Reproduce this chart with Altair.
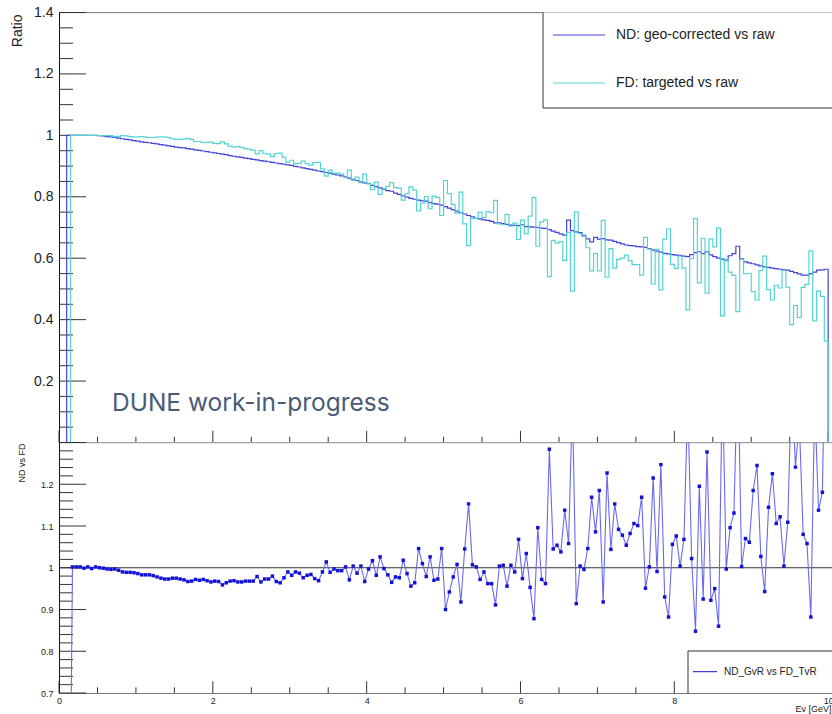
import altair as alt
import pandas as pd

FONT = "Liberation Sans"
BIN_W = 0.05
X_MAX = 10.0
X_DOMAIN_MAX = 10.05

ND_LABEL = "ND: geo-corrected vs raw"
FD_LABEL = "FD: targeted vs raw"
RATIO_LABEL = "ND_GvR vs FD_TvR"
WATERMARK = "DUNE work-in-progress"

ND_COLOR = "#4343da"
FD_COLOR = "#55d3d3"
RATIO_LINE = "#6a6aee"
RATIO_MARK = "#1212d6"

# ND: geo-corrected / raw, per 0.05 GeV bin
nd = [0.000, 0.000, 1.000, 1.000, 1.000, 1.000, 1.000, 1.000, 1.000, 1.000,
      0.999, 0.998, 0.996, 0.995, 0.993, 0.991, 0.989, 0.987, 0.985, 0.983,
      0.981, 0.979, 0.977, 0.976, 0.974, 0.972, 0.970, 0.968, 0.966, 0.964,
      0.962, 0.960, 0.959, 0.957, 0.955, 0.953, 0.951, 0.949, 0.947, 0.945,
      0.943, 0.941, 0.939, 0.937, 0.934, 0.932, 0.930, 0.928, 0.926, 0.924,
      0.922, 0.920, 0.918, 0.916, 0.914, 0.912, 0.910, 0.908, 0.906, 0.904,
      0.902, 0.899, 0.897, 0.894, 0.892, 0.889, 0.887, 0.884, 0.882, 0.879,
      0.877, 0.874, 0.871, 0.868, 0.865, 0.861, 0.857, 0.853, 0.849, 0.845,
      0.843, 0.837, 0.833, 0.829, 0.824, 0.820, 0.818, 0.812, 0.808, 0.803,
      0.799, 0.795, 0.792, 0.789, 0.787, 0.786, 0.781, 0.778, 0.776, 0.773,
      0.768, 0.763, 0.758, 0.753, 0.748, 0.744, 0.739, 0.735, 0.730, 0.728,
      0.725, 0.723, 0.720, 0.715, 0.715, 0.713, 0.710, 0.708, 0.707, 0.706,
      0.709, 0.703, 0.702, 0.701, 0.700, 0.698, 0.697, 0.693, 0.688, 0.684,
      0.679, 0.675, 0.724, 0.690, 0.686, 0.683, 0.673, 0.663, 0.653, 0.668,
      0.662, 0.664, 0.660, 0.659, 0.655, 0.651, 0.647, 0.643, 0.641, 0.640,
      0.638, 0.637, 0.635, 0.631, 0.627, 0.623, 0.620, 0.616, 0.614, 0.612,
      0.610, 0.609, 0.607, 0.605, 0.612, 0.618, 0.621, 0.615, 0.621, 0.611,
      0.605, 0.600, 0.597, 0.594, 0.608, 0.615, 0.639, 0.598, 0.588, 0.585,
      0.582, 0.578, 0.575, 0.572, 0.570, 0.568, 0.566, 0.564, 0.562, 0.561,
      0.557, 0.553, 0.549, 0.545, 0.545, 0.550, 0.555, 0.561, 0.562, 0.564]

# FD: targeted / raw, per 0.05 GeV bin
fd = [0.000, 0.000, 0.000, 1.000, 1.000, 1.000, 1.000, 1.000, 1.000, 1.000,
      0.999, 0.999, 0.999, 0.999, 0.996, 0.997, 0.999, 0.998, 0.996, 0.995,
      0.995, 0.996, 0.994, 0.993, 0.993, 0.994, 0.995, 0.995, 0.993, 0.989,
      0.987, 0.987, 0.988, 0.990, 0.987, 0.980, 0.980, 0.976, 0.977, 0.978,
      0.974, 0.973, 0.979, 0.972, 0.965, 0.962, 0.963, 0.961, 0.957, 0.955,
      0.952, 0.940, 0.950, 0.941, 0.939, 0.931, 0.941, 0.942, 0.928, 0.913,
      0.919, 0.908, 0.909, 0.916, 0.908, 0.903, 0.911, 0.912, 0.891, 0.867,
      0.887, 0.877, 0.877, 0.874, 0.863, 0.887, 0.854, 0.864, 0.846, 0.874,
      0.844, 0.823, 0.848, 0.808, 0.826, 0.834, 0.846, 0.830, 0.828, 0.789,
      0.810, 0.832, 0.822, 0.754, 0.779, 0.801, 0.761, 0.802, 0.798, 0.739,
      0.853, 0.810, 0.775, 0.747, 0.815, 0.712, 0.641, 0.730, 0.729, 0.749,
      0.732, 0.752, 0.748, 0.788, 0.712, 0.709, 0.743, 0.704, 0.714, 0.661,
      0.724, 0.680, 0.737, 0.798, 0.639, 0.718, 0.725, 0.540, 0.658, 0.649,
      0.654, 0.593, 0.684, 0.493, 0.751, 0.680, 0.676, 0.634, 0.559, 0.615,
      0.559, 0.723, 0.538, 0.631, 0.568, 0.596, 0.600, 0.610, 0.592, 0.579,
      0.579, 0.545, 0.668, 0.630, 0.516, 0.629, 0.497, 0.662, 0.696, 0.580,
      0.567, 0.607, 0.568, 0.432, 0.599, 0.729, 0.520, 0.665, 0.486, 0.663,
      0.637, 0.698, 0.412, 0.596, 0.555, 0.544, 0.426, 0.596, 0.550, 0.551,
      0.491, 0.464, 0.560, 0.607, 0.498, 0.464, 0.512, 0.503, 0.560, 0.506,
      0.384, 0.446, 0.407, 0.505, 0.515, 0.624, 0.396, 0.493, 0.476, 0.330]

# ND vs FD, per bin (values outside 0.7-1.3 leave the frame)
ratio = [0.000, 0.000, 0.000, 1.002, 1.002, 1.002, 0.999, 1.002, 0.998, 1.002,
         1.000, 0.999, 0.997, 0.996, 0.997, 0.994, 0.990, 0.989, 0.989, 0.988,
         0.986, 0.983, 0.983, 0.983, 0.981, 0.978, 0.975, 0.973, 0.973, 0.975,
         0.975, 0.973, 0.971, 0.967, 0.968, 0.972, 0.970, 0.972, 0.969, 0.966,
         0.968, 0.967, 0.959, 0.964, 0.968, 0.969, 0.966, 0.966, 0.968, 0.968,
         0.968, 0.979, 0.966, 0.973, 0.973, 0.980, 0.967, 0.964, 0.976, 0.990,
         0.982, 0.990, 0.987, 0.976, 0.982, 0.984, 0.974, 0.969, 0.990, 1.014,
         0.989, 0.997, 0.993, 0.993, 1.002, 0.971, 1.004, 0.987, 1.004, 0.967,
         0.997, 1.017, 0.982, 1.026, 0.998, 0.983, 0.965, 0.978, 0.976, 1.018,
         0.986, 0.956, 0.964, 1.046, 1.010, 0.979, 1.026, 0.970, 0.973, 1.046,
         0.900, 0.942, 0.978, 1.008, 0.918, 1.045, 1.153, 1.007, 1.002, 0.972,
         0.990, 0.962, 0.962, 0.911, 1.004, 1.006, 0.956, 1.006, 0.990, 1.068,
         0.974, 1.034, 0.953, 0.878, 1.096, 0.972, 0.962, 1.284, 1.045, 1.054,
         1.038, 1.138, 1.058, 1.400, 0.914, 1.004, 0.996, 1.046, 1.169, 1.086,
         1.185, 0.918, 1.227, 1.044, 1.153, 1.092, 1.078, 1.054, 1.082, 1.106,
         1.101, 1.169, 0.951, 1.002, 1.215, 0.991, 1.247, 0.930, 0.882, 1.056,
         1.076, 1.004, 1.068, 1.400, 1.022, 0.848, 1.195, 0.925, 1.277, 0.922,
         0.950, 0.860, 1.450, 0.997, 1.096, 1.131, 1.500, 1.003, 1.070, 1.061,
         1.185, 1.245, 1.027, 0.943, 1.145, 1.225, 1.106, 1.122, 1.004, 1.109,
         1.450, 1.241, 1.350, 1.080, 1.058, 0.882, 1.400, 1.138, 1.181, 1.700]

# tick values
top_y_labels = [0.2, 0.4, 0.6, 0.8, 1.0, 1.2, 1.4]
top_y_major = [0.0, 0.2, 0.4, 0.6, 0.8, 1.0, 1.2, 1.4]
top_y_minor = [0.05, 0.1, 0.15, 0.25, 0.3, 0.35, 0.45, 0.5, 0.55, 0.65, 0.7,
               0.75, 0.85, 0.9, 0.95, 1.05, 1.1, 1.15, 1.25, 1.3, 1.35]
bot_y_labels = [0.7, 0.8, 0.9, 1.0, 1.1, 1.2]
bot_y_major = [0.7, 0.8, 0.9, 1.0, 1.1, 1.2, 1.3]
bot_y_minor = [0.72, 0.74, 0.76, 0.78, 0.82, 0.84, 0.86, 0.88, 0.92, 0.94,
               0.96, 0.98, 1.02, 1.04, 1.06, 1.08, 1.12, 1.14, 1.16, 1.18,
               1.22, 1.24, 1.26, 1.28]
x_major = [0, 2, 4, 6, 8, 10]
x_minor = [0.5, 1, 1.5, 2.5, 3, 3.5, 4.5, 5, 5.5, 6.5, 7, 7.5, 8.5, 9, 9.5]

# ---------------------------------------------------------------- tables
edges = [round(i * BIN_W, 3) for i in range(len(nd))] + [X_MAX]
centers = [round((i + 0.5) * BIN_W, 3) for i in range(len(ratio))]
nd_df = pd.DataFrame({"x": edges, "y": nd + [0.0]})
fd_df = pd.DataFrame({"x": edges, "y": fd + [0.0]})
ratio_df = pd.DataFrame({"x": centers, "y": ratio})

W, H_TOP, H_BOT = 773, 430, 250.5
TICK = "#333333"

xs = alt.Scale(domain=[0, X_DOMAIN_MAX], nice=False, zero=False)
ys_top = alt.Scale(domain=[0, 1.4], nice=False, zero=False)
ys_bot = alt.Scale(domain=[0.7, 1.3], nice=False, zero=False)

top_y_axis = alt.Axis(values=top_y_labels, format="~g", ticks=False, tickSize=0,
                      domain=True, domainColor="#111111", grid=False,
                      labelFont=FONT, labelFontSize=14, labelColor="#222222",
                      labelPadding=6, labelFlush=False, labelOverlap=False,
                      title="Ratio", titleFont=FONT, titleFontSize=14,
                      titleFontWeight="normal", titleColor="#222222",
                      titleAngle=270, titleAlign="right", titleBaseline="middle",
                      titleX=-42, titleY=1.5)
bot_y_axis = alt.Axis(values=bot_y_labels, format="~g", ticks=False, tickSize=0,
                      domain=True, domainColor="#111111", grid=False,
                      labelFont=FONT, labelFontSize=9, labelColor="#222222",
                      labelPadding=6, labelFlush=False, labelOverlap=False,
                      title="ND vs FD", titleFont=FONT, titleFontSize=9,
                      titleFontWeight="normal", titleColor="#222222",
                      titleAngle=270, titleAlign="right", titleBaseline="middle",
                      titleX=-38, titleY=0.5)
bot_x_axis = alt.Axis(values=x_major, format="d", ticks=False, tickSize=0,
                      domain=True, domainColor="#777777", grid=False,
                      labelFont=FONT, labelFontSize=9, labelColor="#222222",
                      labelPadding=3, labelFlush=False, labelOverlap=False,
                      title="Ev [GeV]", titleFont=FONT, titleFontSize=9,
                      titleFontWeight="normal", titleColor="#222222",
                      titleAlign="left", titleBaseline="middle",
                      titleX=736, titleY=15)

one = pd.DataFrame({"a": [0]})

# ---------------------------------------------------------------- top panel
nd_line = alt.Chart(nd_df).mark_line(interpolate="step-after", color=ND_COLOR,
                                      strokeWidth=1.2).encode(
    x=alt.X("x:Q", scale=xs, axis=None),
    y=alt.Y("y:Q", scale=ys_top, axis=top_y_axis))
fd_line = alt.Chart(fd_df).mark_line(interpolate="step-after", color=FD_COLOR,
                                      strokeWidth=1.2).encode(
    x=alt.X("x:Q", scale=xs, axis=None),
    y=alt.Y("y:Q", scale=ys_top, axis=top_y_axis))

top_ymaj = alt.Chart(pd.DataFrame({"y": top_y_major})).mark_rule(color=TICK).encode(
    y=alt.Y("y:Q", scale=ys_top, axis=top_y_axis), x=alt.value(0), x2=alt.value(27))
top_ymin = alt.Chart(pd.DataFrame({"y": top_y_minor})).mark_rule(color=TICK).encode(
    y=alt.Y("y:Q", scale=ys_top, axis=top_y_axis), x=alt.value(0), x2=alt.value(14))
top_xmaj = alt.Chart(pd.DataFrame({"x": x_major})).mark_rule(color=TICK).encode(
    x=alt.X("x:Q", scale=xs, axis=None), y=alt.value(H_TOP), y2=alt.value(H_TOP - 11.7))
top_xmin = alt.Chart(pd.DataFrame({"x": x_minor})).mark_rule(color=TICK).encode(
    x=alt.X("x:Q", scale=xs, axis=None), y=alt.value(H_TOP), y2=alt.value(H_TOP - 5.7))

top_border = alt.Chart(one).mark_rule(color="#888888").encode(
    x=alt.value(0), x2=alt.value(W), y=alt.value(0))
mid_border = alt.Chart(one).mark_rule(color="#666666").encode(
    x=alt.value(0), x2=alt.value(W), y=alt.value(H_TOP))

leg_bg = alt.Chart(one).mark_rect(color="white").encode(
    x=alt.value(484), x2=alt.value(W), y=alt.value(0), y2=alt.value(95.5))
leg_left = alt.Chart(one).mark_rule(color="#333333").encode(
    x=alt.value(484), y=alt.value(0), y2=alt.value(95.5))
leg_bottom = alt.Chart(one).mark_rule(color="#333333").encode(
    x=alt.value(484), x2=alt.value(W), y=alt.value(95.5))
leg_nd_line = alt.Chart(one).mark_rule(color=ND_COLOR, strokeWidth=1.2).encode(
    x=alt.value(494), x2=alt.value(546), y=alt.value(22.5))
leg_fd_line = alt.Chart(one).mark_rule(color=FD_COLOR, strokeWidth=1.2).encode(
    x=alt.value(494), x2=alt.value(546), y=alt.value(70.5))
leg_nd_text = alt.Chart(one).mark_text(text=ND_LABEL, font=FONT, fontSize=14,
                                       align="left", baseline="middle",
                                       color="#222222").encode(
    x=alt.value(557), y=alt.value(22.5))
leg_fd_text = alt.Chart(one).mark_text(text=FD_LABEL, font=FONT, fontSize=14,
                                       align="left", baseline="middle",
                                       color="#222222").encode(
    x=alt.value(557), y=alt.value(70.5))

watermark = alt.Chart(one).mark_text(text=WATERMARK, font="Inter", fontSize=24.5,
                                     align="left", baseline="alphabetic",
                                     color="#485b79").encode(
    x=alt.value(53), y=alt.value(398.5))

top = alt.layer(top_border, leg_bg, leg_left, leg_bottom, leg_nd_line,
                leg_fd_line, leg_nd_text, leg_fd_text,
                top_ymaj, top_ymin, top_xmaj, top_xmin,
                nd_line, fd_line, mid_border, watermark).properties(
    width=W, height=H_TOP)

# ---------------------------------------------------------------- bottom panel
unity = alt.Chart(pd.DataFrame({"y": [1.0]})).mark_rule(color="#333333").encode(
    y=alt.Y("y:Q", scale=ys_bot, axis=bot_y_axis), x=alt.value(0), x2=alt.value(W))
r_line = alt.Chart(ratio_df).mark_line(color=RATIO_LINE, strokeWidth=1.1,
                                        clip=True).encode(
    x=alt.X("x:Q", scale=xs, axis=bot_x_axis),
    y=alt.Y("y:Q", scale=ys_bot, axis=bot_y_axis))
r_pts = alt.Chart(ratio_df).mark_square(size=12, color=RATIO_MARK, opacity=1,
                                         clip=True).encode(
    x=alt.X("x:Q", scale=xs, axis=bot_x_axis),
    y=alt.Y("y:Q", scale=ys_bot, axis=bot_y_axis))

bot_ymaj = alt.Chart(pd.DataFrame({"y": bot_y_major})).mark_rule(color=TICK).encode(
    y=alt.Y("y:Q", scale=ys_bot, axis=bot_y_axis), x=alt.value(0), x2=alt.value(27))
bot_ymin = alt.Chart(pd.DataFrame({"y": bot_y_minor})).mark_rule(color=TICK).encode(
    y=alt.Y("y:Q", scale=ys_bot, axis=bot_y_axis), x=alt.value(0), x2=alt.value(14))
bot_xmaj = alt.Chart(pd.DataFrame({"x": x_major})).mark_rule(color=TICK).encode(
    x=alt.X("x:Q", scale=xs, axis=bot_x_axis), y=alt.value(H_BOT), y2=alt.value(H_BOT - 11.7))
bot_xmin = alt.Chart(pd.DataFrame({"x": x_minor})).mark_rule(color=TICK).encode(
    x=alt.X("x:Q", scale=xs, axis=bot_x_axis), y=alt.value(H_BOT), y2=alt.value(H_BOT - 5.7))

bl_bg = alt.Chart(one).mark_rect(color="white").encode(
    x=alt.value(629), x2=alt.value(W), y=alt.value(208.5), y2=alt.value(H_BOT))
bl_left = alt.Chart(one).mark_rule(color="#333333").encode(
    x=alt.value(629), y=alt.value(208.5), y2=alt.value(H_BOT))
bl_top = alt.Chart(one).mark_rule(color="#333333").encode(
    x=alt.value(629), x2=alt.value(W), y=alt.value(208.5))
bl_line = alt.Chart(one).mark_rule(color=RATIO_MARK, strokeWidth=1).encode(
    x=alt.value(634), x2=alt.value(658), y=alt.value(229.2))
bl_text = alt.Chart(one).mark_text(text=RATIO_LABEL, font=FONT, fontSize=10,
                                   align="left", baseline="middle",
                                   color="#222222").encode(
    x=alt.value(665), y=alt.value(229.2))

bottom = alt.layer(bot_ymaj, bot_ymin, bot_xmaj, bot_xmin, unity, r_line, r_pts,
                   bl_bg, bl_left, bl_top, bl_line, bl_text).properties(
    width=W, height=H_BOT)

# With autosize "none" the canvas is (773 + 59 + 0) x (0 + 12.5 + 701.5),
# i.e. exactly 832 x 714, with the plot origin at (59, 12.5).
chart = alt.vconcat(top, bottom, spacing=0, bounds="flush").properties(
    autosize=alt.AutoSizeParams(type="none"),
    padding={"left": 59, "top": 12.5, "right": 0, "bottom": 701.5},
).configure_view(stroke="transparent").configure(font=FONT)

chart.save("out.html", embed_options={"renderer": "svg", "actions": False})
